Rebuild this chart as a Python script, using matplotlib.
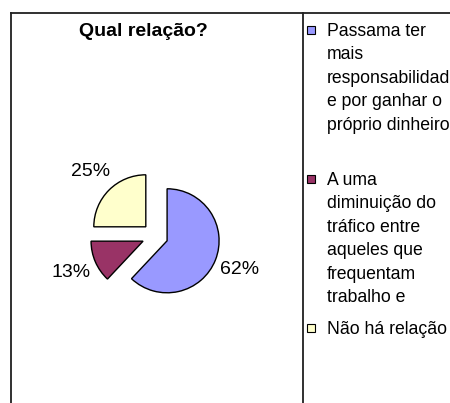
import matplotlib.pyplot as plt
from   matplotlib.lines   import Line2D
from   matplotlib.patches import Rectangle

title   = 'Qual relação?'
shares  = [62, 13, 25]
colors  = ['#9999FF', '#993366', '#FFFFCC']
labels  = ['Passama ter\nmais\nresponsabilidade\ne por ganhar o\npróprio dinheiro',
           'A uma\ndiminuição do\ntráfico entre\naqueles que\nfrequentam\ntrabalho e',
           'Não há relação']

W, H = 450, 403
plt.rcParams['font.family'] = ['Liberation Sans', 'DejaVu Sans']

fig = plt.figure(figsize=(W / 100, H / 100), dpi=100)

def fx(x): return x / W
def fy(y): return 1 - y / H

# frame (outer box runs off the right/bottom edge) and divider
for xs, ys in [((11, W), (13, 13)), ((11, 11), (13, H)), ((303, 303), (13, H))]:
    fig.add_artist(Line2D([fx(v) for v in xs], [fy(v) for v in ys],
                          transform=fig.transFigure, color='#202020', lw=1.3))

fig.text(fx(143), fy(36), title, ha='center', va='baseline',
         fontsize=14, fontweight='bold')

# pie: centre (155,236) px, radius 52 px
cx, cy, r, half = 155, 236, 52, 100
ax = fig.add_axes([fx(cx - half), fy(cy + half), 2 * half / W, 2 * half / H])
wedges, texts, autotexts = ax.pie(shares, colors=colors, startangle=90, counterclock=False,
                                  explode=[0.25] * 3, autopct='%d%%', pctdistance=1.5,
                                  wedgeprops=dict(edgecolor='black', linewidth=1),
                                  textprops=dict(fontsize=14))
lim = half / r
ax.set_xlim(-lim, lim)
ax.set_ylim(-lim, lim)
ax.set_aspect('equal')
ax.axis('off')

# legend, entries spread evenly like Excel does
line_h, entry_h, base0 = 23.4, 149, 36
for i, (lab, col) in enumerate(zip(labels, colors)):
    b = base0 + i * entry_h
    fig.add_artist(Rectangle((fx(307), fy(b - 2)), 8 / W, 8 / H, transform=fig.transFigure,
                             facecolor=col, edgecolor='black', lw=0.8))
    for j, line in enumerate(lab.split('\n')):
        fig.text(fx(327), fy(b + j * line_h), line, ha='left', va='baseline', fontsize=12.7)

plt.savefig('out.png', dpi=100)
